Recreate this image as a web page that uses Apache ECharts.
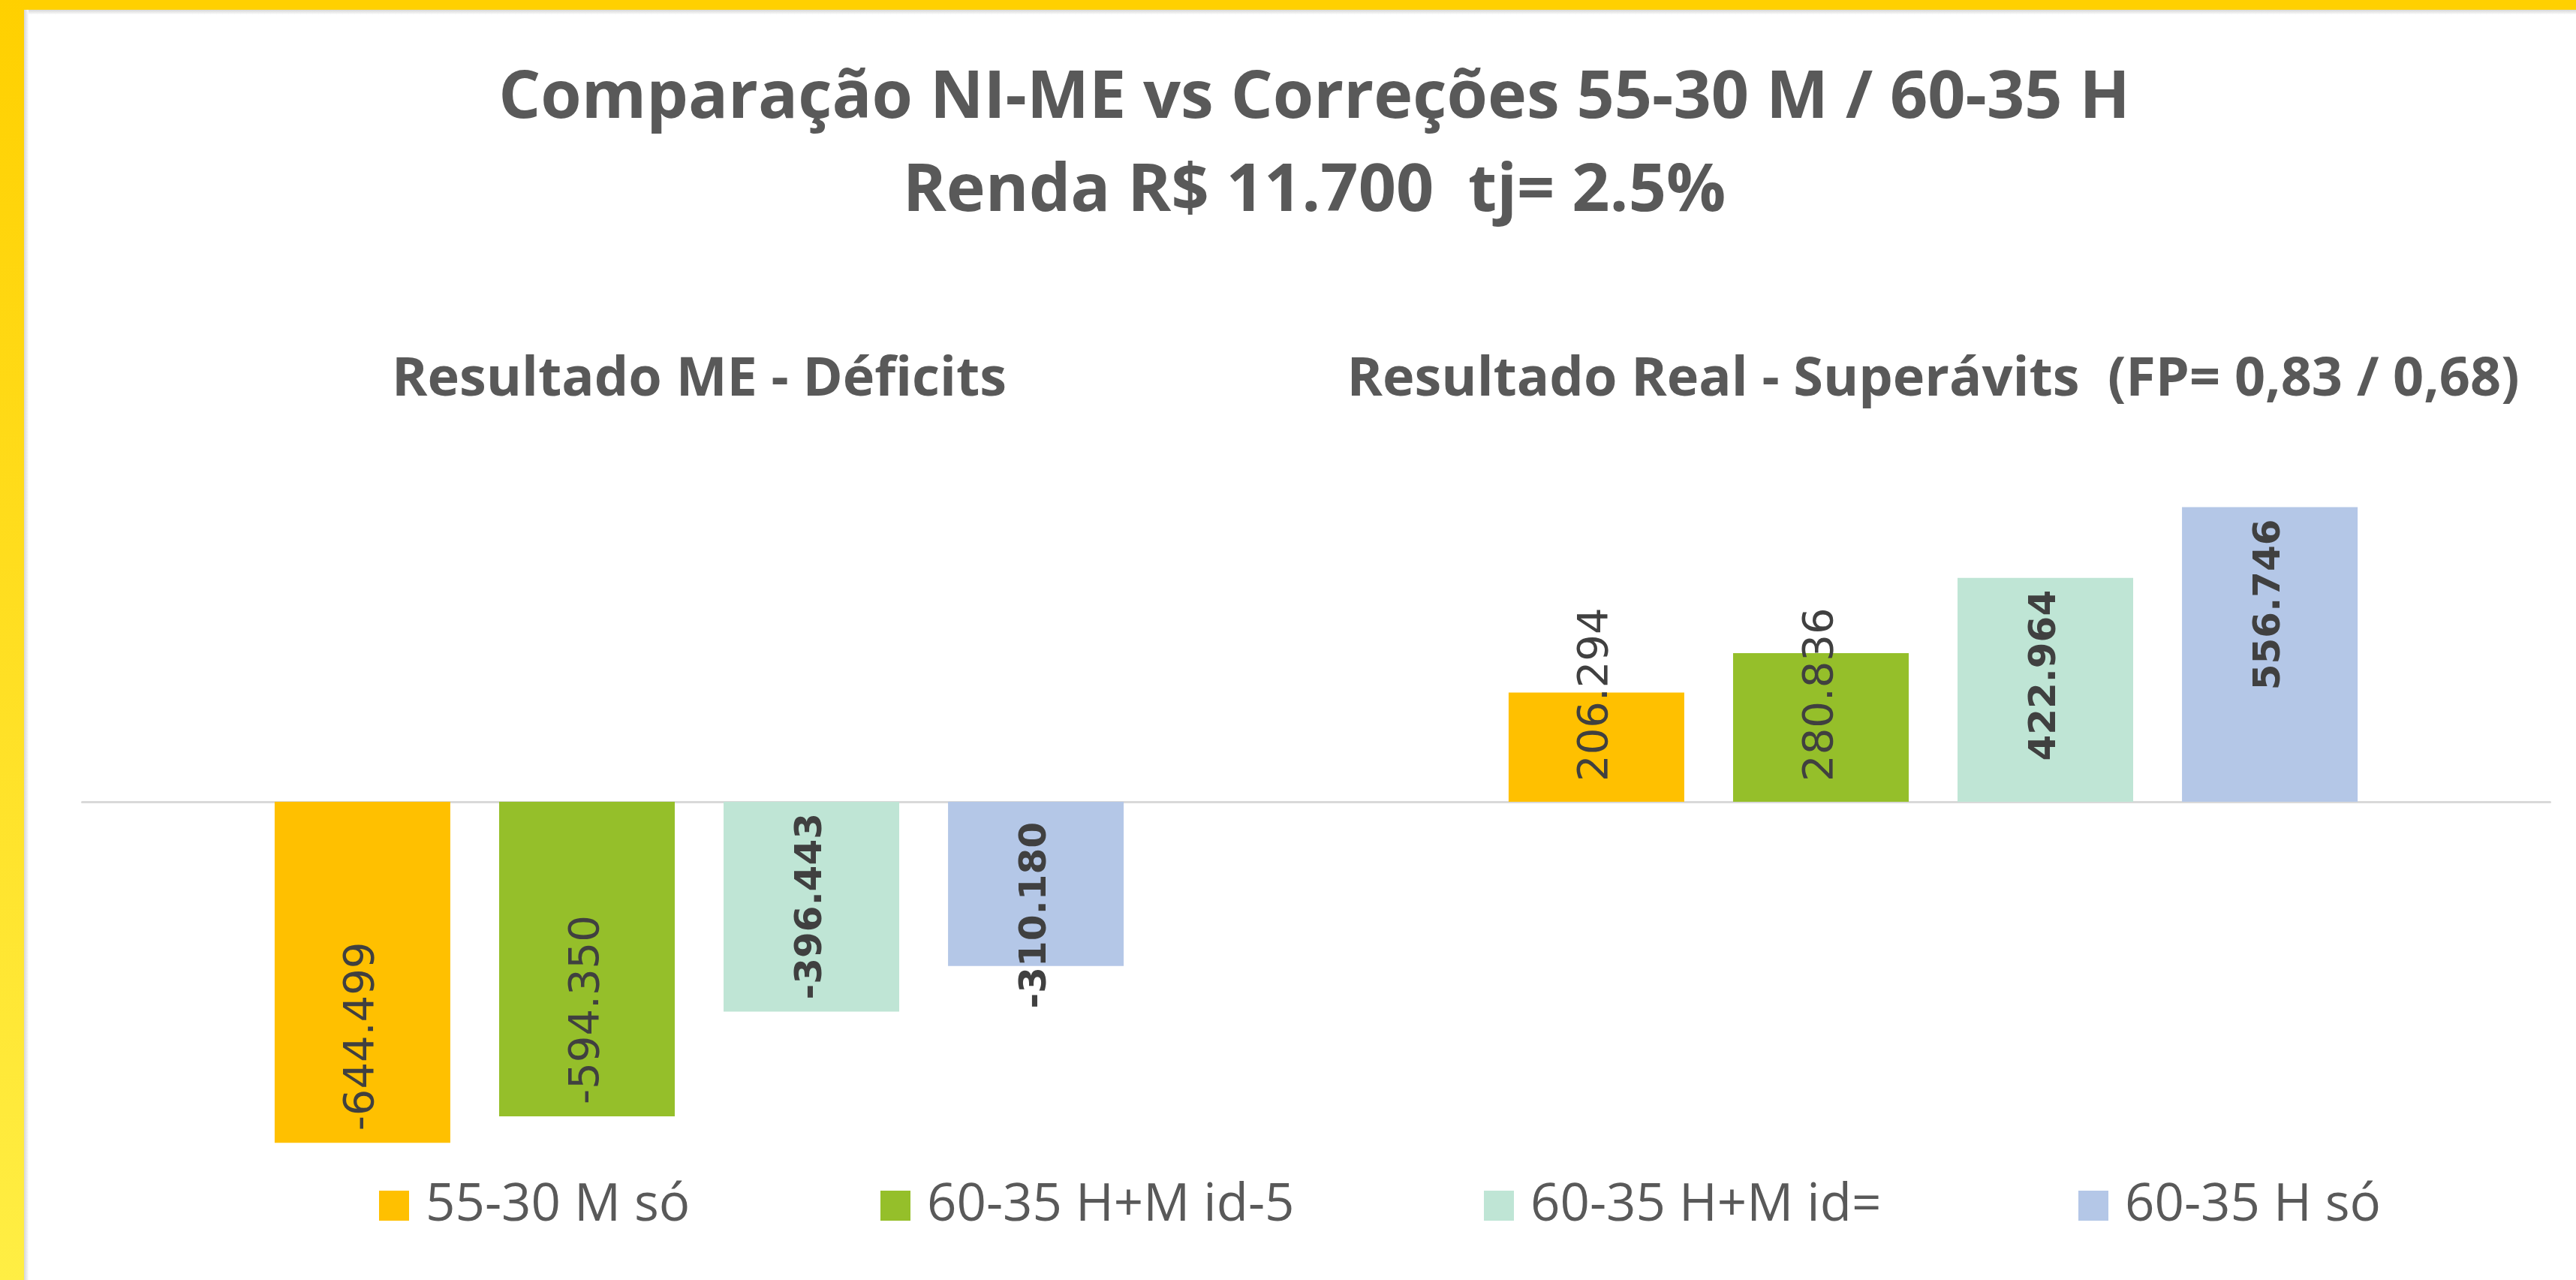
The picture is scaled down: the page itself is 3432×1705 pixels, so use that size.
<!DOCTYPE html>
<html>
<head>
<meta charset="utf-8">
<script src="https://cdn.jsdelivr.net/npm/echarts@6/dist/echarts.min.js"></script>
<style>
    html, body { margin: 0; padding: 0; width: 3432px; height: 1705px; overflow: hidden; background: #fff; }
    .yl-top { position: absolute; left: 0; top: 0; width: 3432px; height: 13px; background: #FFD000; }
    .yl-left { position: absolute; left: 0; top: 0; width: 32px; height: 1705px; background: linear-gradient(#FFD000, #FFEE44); }
    .sh-top { position: absolute; left: 32px; top: 13px; width: 3400px; height: 6px; background: linear-gradient(#d6d6d6, #fbfbfb); }
    .sh-left { position: absolute; left: 32px; top: 13px; width: 6px; height: 1692px; background: linear-gradient(90deg, #d6d6d6, #fbfbfb); }
    #chart { position: absolute; left: 0; top: 0; width: 3432px; height: 1705px; }
</style>
</head>
<body>
<div class="yl-top"></div>
<div class="yl-left"></div>
<div class="sh-top"></div>
<div class="sh-left"></div>
<div id="chart"></div>
<script>
    // categorias (aparecem como subtítulos acima de cada grupo)
    const categories = ['Resultado ME - Déficits', 'Resultado Real - Superávits  (FP= 0,83 / 0,68)'];
    const seriesNames = ['55-30 M só', '60-35 H+M id-5', '60-35 H+M id=', '60-35 H só'];
    const s1 = [-644499, 206294];
    const s2 = [-594350, 280836];
    const s3 = [-396443, 422964];
    const s4 = [-310180, 556746];

    const colors = ['#FFC000', '#95BF2A', '#BFE5D5', '#B4C7E7'];
    const boldLabel = [false, false, true, true];
    const legendLeft = [505, 1173, 1977, 2769];
    const LABEL_FIT = 350000; // abaixo disso o rótulo não cabe no fim da barra

    // formato pt-BR: ponto como separador de milhar
    const fmt = v => (v < 0 ? '-' : '') + String(Math.abs(v)).replace(/\B(?=(\d{3})+(?!\d))/g, '.');

    const labelFor = v => {
        const atEnd = Math.abs(v) >= LABEL_FIT;
        // topo geométrico: fim da barra positiva ou base da negativa
        const top = (v >= 0) === atEnd;
        return {
            position: top ? 'insideTop' : 'insideBottom',
            align: top ? 'right' : 'left',
            distance: atEnd ? 16 : 27,
        };
    };

    const myChart = echarts.init(document.getElementById('chart'));
    const series = [s1, s2, s3, s4].map((arr, i) => ({
        name: seriesNames[i],
        type: 'bar',
        barWidth: 234,
        barGap: '27.8%',
        itemStyle: { color: colors[i] },
        label: {
            show: true,
            rotate: 90,
            verticalAlign: 'middle',
            color: '#404040',
            fontFamily: 'DejaVu Sans',
            fontSize: boldLabel[i] ? 50 : 56,
            fontWeight: boldLabel[i] ? 'bold' : 'normal',
            formatter: p => fmt(p.value),
        },
        data: arr.map(v => ({ value: v, label: labelFor(v) })),
    }));

    const option = {
        backgroundColor: 'transparent',
        animation: false,
        title: {
            text: 'Comparação NI-ME vs Correções 55-30 M / 60-35 H\nRenda R$ 11.700  tj= 2.5%',
            left: 1751,
            top: 70,
            textAlign: 'center',
            padding: 0,
            textStyle: {
                fontFamily: 'Open Sans',
                fontWeight: 'bold',
                fontSize: 88,
                lineHeight: 124,
                color: '#595959',
            },
        },
        legend: seriesNames.map((n, i) => ({
            data: [n],
            left: legendLeft[i],
            top: 1566,
            padding: 0,
            icon: 'rect',
            itemWidth: 40,
            itemHeight: 40,
            selectedMode: false,
            textStyle: {
                fontFamily: 'Open Sans',
                fontSize: 69,
                lineHeight: 80,
                color: '#595959',
                padding: [0, 0, 0, 17],
            },
        })),
        grid: {
            left: 109.5,
            right: 34.5,
            top: 574.5,
            bottom: 143.5,
        },
        xAxis: [
            {
                type: 'category',
                data: categories,
                axisLine: { lineStyle: { color: '#D9D9D9', width: 3 } },
                axisTick: { show: false },
                axisLabel: { show: false },
            },
            {
                type: 'category',
                position: 'top',
                data: categories,
                axisLine: { show: false },
                axisTick: { show: false },
                axisLabel: {
                    interval: 0,
                    margin: 32,
                    fontFamily: 'Open Sans',
                    fontWeight: 'bold',
                    fontSize: 72,
                    color: '#595959',
                },
            },
        ],
        yAxis: {
            type: 'value',
            min: -700000,
            max: 700000,
            show: false,
            splitLine: { show: false },
        },
        series: series,
    };
    myChart.setOption(option);
</script>
</body>
</html>
